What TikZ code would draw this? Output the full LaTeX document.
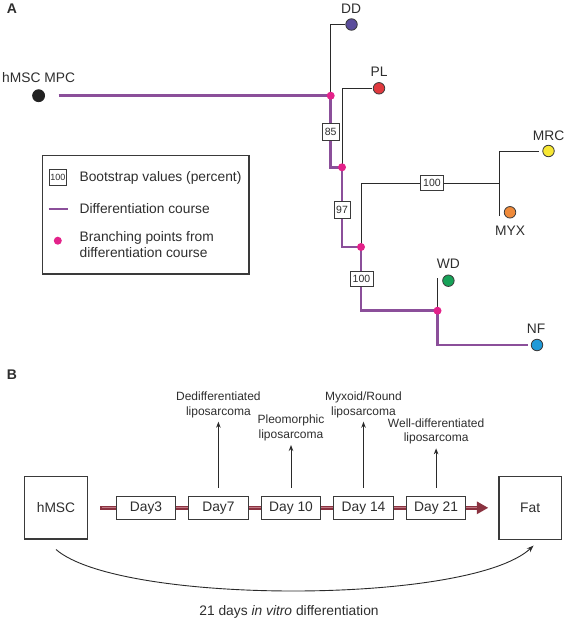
\documentclass[tikz,border=0pt]{standalone}
\usepackage{fontspec}
\setmainfont{Liberation Sans}
\usetikzlibrary{arrows.meta,calc}
\definecolor{txt}{HTML}{2E2E2E}
\definecolor{boxc}{HTML}{3A3A3A}
\definecolor{blk}{HTML}{2A2A2A}
\definecolor{purp}{HTML}{8B4F9A}
\definecolor{pinkc}{HTML}{E3228A}
\definecolor{cDD}{HTML}{5B4D9C}
\definecolor{cPL}{HTML}{E0393E}
\definecolor{cMRC}{HTML}{F7E733}
\definecolor{cMYX}{HTML}{EF8A3A}
\definecolor{cWD}{HTML}{17A258}
\definecolor{cNF}{HTML}{1F9AD8}
\definecolor{cHM}{HTML}{222222}
\definecolor{barout}{HTML}{8A3240}
\definecolor{barin}{HTML}{C07884}
\pgfdeclarelayer{bg}
\pgfsetlayers{bg,main}
\begin{document}
\begin{tikzpicture}[x=1pt,y=-1pt,
  lab/.style={font=\fontsize{13.8}{15.6}\selectfont, text=txt, inner sep=0pt},
  leaf/.style={circle, draw=boxc, line width=0.8pt, minimum size=11.5pt, inner sep=0pt},
  branchpt/.style={circle, fill=pinkc, minimum size=8pt, inner sep=0pt},
  boot/.style={draw=boxc, fill=white, line width=0.9pt, text=txt, font=\fontsize{10.5}{12}\selectfont, inner sep=0pt, minimum width=17pt, minimum height=16.5pt},
  course/.style={draw=purp, line width=2.6pt},
  twig/.style={draw=blk, line width=1pt},
  bigbox/.style={draw=boxc, line width=1.1pt, minimum width=63pt, minimum height=62.3pt, inner sep=0pt, text=txt, font=\fontsize{13.8}{15.6}\selectfont},
  daybox/.style={draw=boxc, fill=white, line width=1.1pt, minimum width=59.5pt, minimum height=23pt, inner sep=0pt, text=txt, font=\fontsize{13.8}{15.6}\selectfont},
  tumor/.style={font=\fontsize{12}{14.5}\selectfont, text=txt, align=center, anchor=south, inner xsep=0pt, inner ysep=4pt},
  uparrow/.style={draw=blk, line width=0.9pt, -{Stealth[length=6pt,width=4.5pt]}},
  bar/.style={draw=barout, line width=4.5pt},
  stripe/.style={draw=barin, line width=1.3pt},
  curvearrow/.style={draw=blk, line width=0.9pt, -{Stealth[length=7pt,width=5pt]}}
]
\useasboundingbox (0,0) rectangle (566,621);

% ---------- Panel A ----------
\node[font=\bfseries\fontsize{14}{16}\selectfont, text=txt] (lA) at (12,9) {A};

% leaves
\node[leaf, fill=cHM, draw=cHM, minimum size=12pt] (hm) at (38.6,95.7) {};
\node[leaf, fill=cDD] (dd) at (351.5,24.5) {};
\node[leaf, fill=cPL] (pl) at (379,88.3) {};
\node[leaf, fill=cMRC] (mrc) at (548.5,151) {};
\node[leaf, fill=cMYX] (myx) at (510,212.3) {};
\node[leaf, fill=cWD] (wd) at (448.4,280.7) {};
\node[leaf, fill=cNF] (nf) at (537,345) {};

% leaf labels
\node[lab] (hmlab) at (38.6,77.7) {hMSC MPC};
\node[lab] (ddlab) at (351,9) {DD};
\node[lab] (pllab) at (379,72) {PL};
\node[lab] (mrclab) at (548.7,135.7) {MRC};
\node[lab] (myxlab) at (510,231) {MYX};
\node[lab] (wdlab) at (448.4,263.3) {WD};
\node[lab] (nflab) at (536,329) {NF};

% branching points
\node[branchpt] (b1) at (330.7,95.7) {};
\node[branchpt] (b2) at (342,167.3) {};
\node[branchpt] (b3) at (361,247) {};
\node[branchpt] (b4) at (437.5,310.7) {};

\coordinate (split) at (499,183.3);
\coordinate (mtop) at (499,151);
\coordinate (mbot) at (499,216);
\coordinate (wdtop) at (437.5,277.7);

\begin{pgfonlayer}{bg}
  \draw[course] ([xshift=13.5pt]hm.east) -- (b1.center) -- (b1 |- b2) -- (b2.center)
     -- (b2 |- b3) -- (b3.center) -- (b3 |- b4) -- (b4.center)
     -- (b4 |- nf) -- ([xshift=-3pt]nf.west);
  \draw[twig] (b1.center) |- (dd.west);
  \draw[twig] (b2.center) |- ([xshift=-1pt]pl.west);
  \draw[twig] (b3.center) |- (split);
  \draw[twig] (mbot) -- (mtop) -- ([xshift=-3pt]mrc.west);
  \draw[twig] (b4.center) -- (wdtop);
\end{pgfonlayer}

% bootstrap boxes
\node[boot] (bs85) at (330.7,131.7) {85};
\node[boot, minimum width=16pt] (bs97) at (342,210) {97};
\node[boot, minimum width=22.5pt, minimum height=15pt] (bs100a) at (432,183.3) {100};
\node[boot, minimum width=23pt, minimum height=15pt] (bs100b) at (361.5,279.3) {100};

% legend
\node[draw=boxc, line width=1.1pt, minimum width=206.4pt, minimum height=118.3pt, inner sep=0pt] (legend) at (145.8,214.85) {};
\node[boot, font=\fontsize{9}{10}\selectfont, minimum width=17pt, minimum height=15.7pt] (lgbox) at (57.8,177.7) {100};
\coordinate (lgA) at (48.7,209);
\coordinate (lgB) at (67.5,209);
\draw[course] (lgA) -- (lgB);
\node[branchpt] (lgdot) at (57.8,240.7) {};
\node[lab, anchor=west] (lgt1) at (79.4,177.7) {Bootstrap values (percent)};
\node[lab, anchor=west] (lgt2) at (79.4,209) {Differentiation course};
\node[lab, anchor=west, align=left] (lgt3) at (79.4,244.5) {Branching points from\\differentiation course};

% ---------- Panel B ----------
\node[font=\bfseries\fontsize{14}{16}\selectfont, text=txt] (lB) at (12,375) {B};

\node[bigbox] (hmsc) at (56,507.8) {hMSC};
\node[bigbox, minimum width=62.4pt, minimum height=62.6pt] (fat) at (530.2,508) {Fat};

\node[daybox] (d3) at (146,507.8) {Day3};
\node[daybox] (d7) at (218.4,507.8) {Day7};
\node[daybox] (d10) at (291,507.8) {Day 10};
\node[daybox] (d14) at (363.5,507.8) {Day 14};
\node[daybox] (d21) at (436.1,507.8) {Day 21};

\coordinate (tstart) at (100.4,507.8);
\coordinate (tend) at (488.3,507.8);

\draw[bar] (tstart) -- (d3.west);
\draw[bar] (d3.east) -- (d7.west);
\draw[bar] (d7.east) -- (d10.west);
\draw[bar] (d10.east) -- (d14.west);
\draw[bar] (d14.east) -- (d21.west);
\draw[bar, -{Triangle[length=11.5pt,width=12pt]}] (d21.east) -- (tend);
\draw[stripe] ([xshift=1.5pt]tstart) -- (d3.west);
\draw[stripe] (d3.east) -- (d7.west);
\draw[stripe] (d7.east) -- (d10.west);
\draw[stripe] (d10.east) -- (d14.west);
\draw[stripe] (d14.east) -- (d21.west);
\draw[stripe, shorten >=11pt] (d21.east) -- (tend);

% tumour labels and arrows
\node[tumor] (ded) at (218.4,421.7) {Dedifferentiated\\liposarcoma};
\node[tumor] (pleo) at (291,445) {Pleomorphic\\liposarcoma};
\node[tumor] (myxr) at (363.5,421.7) {Myxoid/Round\\liposarcoma};
\node[tumor] (well) at (436.1,448.3) {Well-differentiated\\liposarcoma};

\draw[uparrow] ([yshift=8pt]d7.north) -- (ded.south);
\draw[uparrow] ([yshift=8pt]d10.north) -- (pleo.south);
\draw[uparrow] ([yshift=8pt]d14.north) -- (myxr.south);
\draw[uparrow] ([yshift=8pt]d21.north) -- (well.south);

% curved arrow
\draw[curvearrow] ([yshift=-10pt]hmsc.south) .. controls (120,605) and (470,605) .. ([xshift=3.4pt,yshift=-5.7pt]fat.south);

\node[lab] (cap) at (289,611.7) {21 days \textit{in vitro} differentiation};
\end{tikzpicture}
\end{document}
